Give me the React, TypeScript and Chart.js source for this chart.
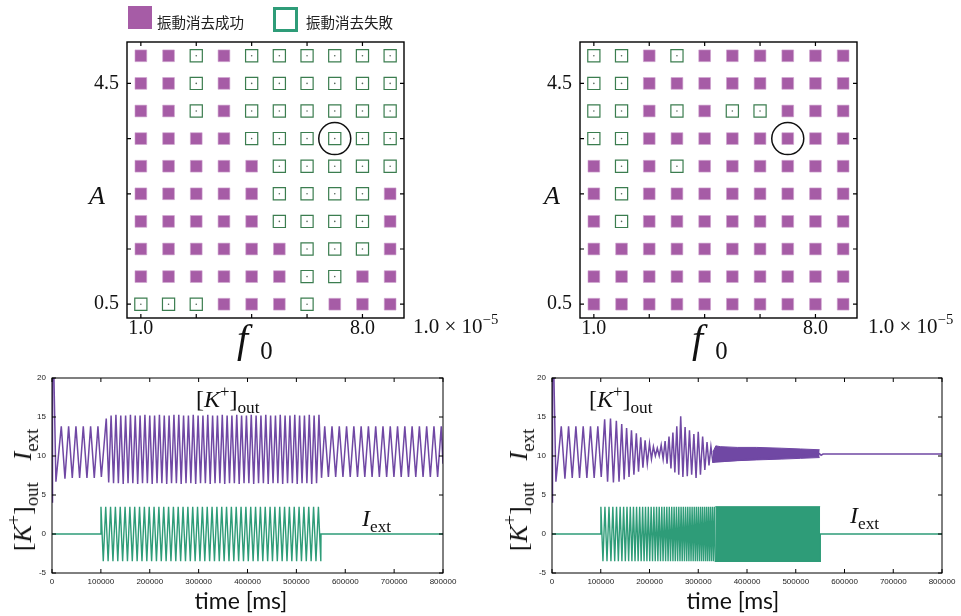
import React, { useEffect, useRef } from "react";
import { Chart, registerables } from "chart.js";
Chart.register(...registerables);

const W = 961;
const H = 616;

// ---------------- parameter-scan grids (rows: A from 5.0 down to 0.5) ----------------
const ampValues = [5.0, 4.5, 4.0, 3.5, 3.0, 2.5, 2.0, 1.5, 1.0, 0.5];
const leftOutcomes = [
  "SSFSFFFFFF",
  "SSFSFFFFFF",
  "SSFSFFFFFF",
  "SSSSFFFFFF",
  "SSSSSFFFFF",
  "SSSSSFFFFS",
  "SSSSSFFFFS",
  "SSSSSSFFFS",
  "SSSSSSFFSS",
  "FFFSSSFSSS",
];
const rightOutcomes = [
  "FFSFSSSSSS",
  "FFSSSSSSSS",
  "FFSFSFFSSS",
  "FFSSSSSSSS",
  "SFSFSSSSSS",
  "SFSSSSSSSS",
  "SFSSSSSSSS",
  "SSSSSSSSSS",
  "SSSSSSSSSS",
  "SSSSSSSSSS",
];
const circledCell = [7, 3.5];
const f0TickCols = [0, 2, 4, 6, 8];
const f0TickText = ["1.0", "", "", "", "8.0"];
const ampTicks = [0.5, 1.5, 2.5, 3.5, 4.5];
const ampTickText = ["0.5", "", "", "", "4.5"];

// ---------------- time series (times in units of 1000 ms) ----------------
const timeTicks = [0, 100000, 200000, 300000, 400000, 500000, 600000, 700000, 800000];
const levelTicks = [-5, 0, 5, 10, 15, 20];
const stimAmp = 3.5;

// [K+]out before stimulation (same in both runs)
const kPreT = [0, 1, 2.5, 8, 19, 26.5, 34, 41.5, 49, 56.5, 64, 71.5, 79, 86.5, 94, 101];
const kPreV = [4.1, 21, 25, 6.7, 13.8, 7.1, 13.8, 7.2, 13.8, 7.2, 13.8, 7.2, 13.8, 7.2, 13.8, 7.3];

// left run: [K+]out during stimulation
const lStimPeakT = [111.0, 120.9, 130.8, 140.7, 150.6, 160.5, 170.3, 180.2, 190.1, 200.0, 209.9, 219.8, 229.7, 239.6, 249.5, 259.4, 269.2, 279.1, 289.0, 298.9, 308.8, 318.7, 328.6, 338.5, 348.4, 358.3, 368.1, 378.0, 387.9, 397.8, 407.7, 417.6, 427.5, 437.4, 447.3, 457.2, 467.0, 476.9, 486.8, 496.7, 506.6, 516.5, 526.4, 536.3, 546.2];
const lStimPeakV = [14.8, 15.2, 15.3, 15.2, 15.2, 15.3, 15.2, 15.2, 15.3, 15.2, 15.2, 15.3, 15.2, 15.2, 15.3, 15.3, 15.2, 15.2, 15.3, 15.2, 15.2, 15.3, 15.2, 15.2, 15.3, 15.2, 15.2, 15.3, 15.2, 15.2, 15.3, 15.2, 15.2, 15.3, 15.2, 15.2, 15.3, 15.2, 15.2, 15.3, 15.2, 15.2, 15.3, 15.2, 15.3];
const lStimTroughT = [116.0, 125.9, 135.8, 145.7, 155.6, 165.4, 175.3, 185.2, 195.1, 205.0, 214.9, 224.8, 234.7, 244.6, 254.5, 264.3, 274.2, 284.1, 294.0, 303.9, 313.8, 323.7, 333.6, 343.5, 353.4, 363.2, 373.1, 383.0, 392.9, 402.8, 412.7, 422.6, 432.5, 442.4, 452.3, 462.1, 472.0, 481.9, 491.8, 501.7, 511.6, 521.5, 531.4, 541.3, 551.5];
const lStimTroughV = [6.6, 6.5, 6.5, 6.4, 6.5, 6.5, 6.4, 6.5, 6.5, 6.4, 6.5, 6.5, 6.4, 6.5, 6.5, 6.4, 6.5, 6.5, 6.4, 6.5, 6.5, 6.4, 6.5, 6.5, 6.4, 6.5, 6.5, 6.4, 6.5, 6.5, 6.4, 6.5, 6.5, 6.4, 6.5, 6.5, 6.4, 6.5, 6.5, 6.4, 6.5, 6.5, 6.4, 6.5, 7.2];
// left run: [K+]out after stimulation
const lPostPeakT = [558.0, 572.9, 587.8, 602.7, 617.6, 632.5, 647.4, 662.3, 677.2, 692.1, 707.0, 721.9, 736.8, 751.7, 766.6, 781.5, 796.4];
const lPostPeakV = [13.8, 13.8, 13.8, 13.8, 13.8, 13.8, 13.8, 13.8, 13.8, 13.8, 13.8, 13.8, 13.8, 13.8, 13.8, 13.8, 13.8];
const lPostTroughT = [565.5, 580.4, 595.3, 610.2, 625.1, 640.0, 654.9, 669.8, 684.7, 699.6, 714.5, 729.4, 744.3, 759.2, 774.1, 789.0, 800.0];
const lPostTroughV = [7.3, 7.3, 7.3, 7.3, 7.3, 7.3, 7.3, 7.3, 7.3, 7.3, 7.3, 7.3, 7.3, 7.3, 7.3, 7.3, 9.0];
// left run: I_ext (periodic)
const lIextPeakT = [100.2, 109.9, 119.8, 129.7, 139.6, 149.5, 159.3, 169.2, 179.1, 189.0, 198.9, 208.8, 218.7, 228.6, 238.5, 248.4, 258.2, 268.1, 278.0, 287.9, 297.8, 307.7, 317.6, 327.5, 337.4, 347.3, 357.1, 367.0, 376.9, 386.8, 396.7, 406.6, 416.5, 426.4, 436.3, 446.2, 456.0, 465.9, 475.8, 485.7, 495.6, 505.5, 515.4, 525.3, 535.2, 545.1];
const lIextTroughT = [104.9, 114.8, 124.7, 134.6, 144.5, 154.4, 164.3, 174.2, 184.1, 194.0, 203.8, 213.7, 223.6, 233.5, 243.4, 253.3, 263.2, 273.1, 283.0, 292.9, 302.7, 312.6, 322.5, 332.4, 342.3, 352.2, 362.1, 372.0, 381.9, 391.8, 401.6, 411.5, 421.4, 431.3, 441.2, 451.1, 461.0, 470.9, 480.8, 490.7, 500.5, 510.4, 520.3, 530.2, 540.1, 550.0];

// right run: [K+]out during stimulation
const rStimPeakT = [108, 120, 132, 143, 153, 163, 173, 182, 191, 200, 208, 216, 224, 232, 240, 248, 256, 264, 273, 282, 291, 300, 309, 318, 326];
const rStimPeakV = [14.7, 14.8, 14.5, 14.1, 13.6, 13.3, 12.9, 12.4, 12.0, 11.6, 11.2, 11.0, 11.4, 11.9, 12.5, 13.0, 13.8, 15.1, 13.7, 13.3, 12.8, 13.1, 12.5, 11.8, 11.2];
const rStimTroughT = [114, 126, 137.5, 148, 158, 168, 177.5, 186.5, 195.5, 204, 212, 220, 228, 236, 244, 252, 260, 268.5, 277.5, 286.5, 295.5, 304.5, 313.5, 322, 330];
const rStimTroughV = [6.7, 6.6, 6.7, 7.0, 7.3, 7.6, 8.0, 8.5, 9.0, 9.6, 10.0, 10.0, 9.6, 9.0, 8.4, 7.9, 7.6, 7.3, 7.4, 7.6, 7.2, 7.6, 8.2, 8.8, 9.2];
// right run: dense [K+]out oscillation envelope, then steady level
const rBandT = [330, 336, 345, 380, 420, 470, 510, 549];
const rBandHi = [10.5, 11.3, 11.2, 11.1, 11.1, 11.0, 10.9, 10.8];
const rBandLo = [9.2, 9.3, 9.3, 9.4, 9.5, 9.6, 9.7, 9.8];
const rPostT = [549, 552, 556, 800];
const rPostV = [10.3, 10.1, 10.25, 10.25];
// right run: I_ext (chirp)
const rIextPeakT = [100.3, 108.6, 116.9, 124.8, 132.4, 139.8, 146.9, 153.8, 160.6, 167.1, 173.5, 179.8, 185.9, 191.8, 197.6, 203.4, 209.0, 214.5, 219.9, 225.2, 230.4, 235.5, 240.6, 245.6, 250.5, 255.3, 260.1, 264.8, 269.4, 274.0, 278.5, 283.0, 287.4, 291.8, 296.1, 300.3, 304.6, 308.7, 312.9, 317.0, 321.0, 325.0, 329.0, 333.0];
const rIextTroughT = [104.5, 112.8, 120.9, 128.6, 136.1, 143.4, 150.4, 157.2, 163.9, 170.3, 176.7, 182.9, 188.9, 194.7, 200.5, 206.2, 211.8, 217.2, 222.6, 227.8, 233.0, 238.1, 243.1, 248.1, 252.9, 257.7, 262.5, 267.1, 271.7, 276.3, 280.8, 285.2, 289.6, 294.0, 298.2, 302.5, 306.7, 310.8, 315.0, 319.0, 323.0, 327.0, 331.0, 335.0];
const rIextBandT = [335, 550];

// ---------------- colours ----------------
const PURPLE_SQ = "#a65ca6";
const GREEN_SQ = "#3b7d4f";
const K_COLOR = "#7048a4";
const I_COLOR = "#2e9c78";

type P = { x: number; y: number };
const pts = (t: number[], v: number[]): P[] =>
  t.slice(0, Math.min(t.length, v.length)).map((tt, i) => ({ x: tt * 1000, y: v[i] }));
const merge = (...parts: P[][]): P[] => parts.flat().sort((a, b) => a.x - b.x);
const level = (t: number[], v: number): P[] => t.map((tt) => ({ x: tt * 1000, y: v }));

const frameTicks = {
  id: "frameTicks",
  afterDraw(chart: any, _a: any, opts: any) {
    const { ctx, chartArea: a } = chart;
    const xs = chart.scales.x;
    const ys = chart.scales.y;
    const L = opts.tickLen;
    ctx.save();
    ctx.strokeStyle = "#000";
    ctx.lineWidth = opts.tickWidth;
    ctx.beginPath();
    xs.ticks.forEach((t: any) => {
      const p = xs.getPixelForValue(t.value);
      ctx.moveTo(p, a.top);
      ctx.lineTo(p, a.top + L);
      ctx.moveTo(p, a.bottom);
      ctx.lineTo(p, a.bottom - L);
    });
    ys.ticks.forEach((t: any) => {
      const p = ys.getPixelForValue(t.value);
      ctx.moveTo(a.left, p);
      ctx.lineTo(a.left + L, p);
      ctx.moveTo(a.right, p);
      ctx.lineTo(a.right - L, p);
    });
    ctx.stroke();
    ctx.lineWidth = opts.lineWidth;
    ctx.strokeRect(a.left, a.top, a.right - a.left, a.bottom - a.top);
    ctx.restore();
  },
};

function gridConfig(outcomes: string[], left: number, right: number) {
  const success: P[] = [];
  const failure: P[] = [];
  outcomes.forEach((row, r) =>
    row.split("").forEach((c, col) => (c === "S" ? success : failure).push({ x: col, y: ampValues[r] }))
  );
  const top = 42;
  const bottom = 318;
  const yW = 40;
  const xH = 30;
  return {
    type: "scatter",
    data: {
      datasets: [
        { data: [{ x: circledCell[0], y: circledCell[1] }], pointStyle: "circle", pointRadius: 16, pointBackgroundColor: "rgba(0,0,0,0)", pointBorderColor: "#111", pointBorderWidth: 1.5 },
        { data: failure, pointStyle: "circle", pointRadius: 0.8, pointBackgroundColor: "#55655a", pointBorderWidth: 0 },
        { data: failure, pointStyle: "rect", pointRadius: 8.6, pointBackgroundColor: "rgba(255,255,255,0)", pointBorderColor: GREEN_SQ, pointBorderWidth: 1.2 },
        { data: success, pointStyle: "rect", pointRadius: 8.3, pointBackgroundColor: PURPLE_SQ, pointBorderColor: "#cfa3cf", pointBorderWidth: 0.6 },
      ],
    },
    options: {
      animation: false,
      responsive: false,
      events: [],
      layout: { autoPadding: false, padding: { left: left - yW, right: W - right, top, bottom: H - bottom - xH } },
      plugins: { legend: { display: false }, tooltip: { enabled: false }, frameTicks: { tickLen: 4, tickWidth: 1.2, lineWidth: 1.4 } },
      scales: {
        x: {
          type: "linear", min: -0.5, max: 9.5,
          afterFit: (s: any) => { s.height = xH; },
          afterBuildTicks: (s: any) => { s.ticks = f0TickCols.map((v) => ({ value: v })); },
          ticks: { autoSkip: false, maxRotation: 0, padding: -1, color: "#111", font: { family: "Liberation Serif", size: 20 }, callback: (_v: any, i: number) => f0TickText[i] },
          grid: { display: false, drawTicks: false },
          border: { display: false },
        },
        y: {
          type: "linear", min: 0.25, max: 5.25,
          afterFit: (s: any) => { s.width = yW; },
          afterBuildTicks: (s: any) => { s.ticks = ampTicks.map((v) => ({ value: v })); },
          ticks: { autoSkip: false, padding: 8, color: "#111", font: { family: "Liberation Serif", size: 20 }, callback: (_v: any, i: number) => ampTickText[i] },
          grid: { display: false, drawTicks: false },
          border: { display: false },
        },
      },
    },
    plugins: [frameTicks],
  };
}

function timeConfig(datasets: any[], left: number, right: number) {
  const top = 378;
  const bottom = 573;
  const yW = 30;
  const xH = 20;
  return {
    type: "line",
    data: { datasets },
    options: {
      animation: false,
      responsive: false,
      events: [],
      layout: { autoPadding: false, padding: { left: left - yW, right: W - right, top, bottom: H - bottom - xH } },
      plugins: { legend: { display: false }, tooltip: { enabled: false }, frameTicks: { tickLen: 4, tickWidth: 1, lineWidth: 1 } },
      elements: { point: { radius: 0 }, line: { tension: 0 } },
      scales: {
        x: {
          type: "linear", min: 0, max: 800000,
          afterFit: (s: any) => { s.height = xH; },
          afterBuildTicks: (s: any) => { s.ticks = timeTicks.map((v) => ({ value: v })); },
          ticks: { autoSkip: false, maxRotation: 0, padding: 4, color: "#222", font: { family: "Liberation Sans", size: 8 }, callback: (v: any) => String(v) },
          grid: { display: false, drawTicks: false },
          border: { display: false },
        },
        y: {
          type: "linear", min: -5, max: 20,
          afterFit: (s: any) => { s.width = yW; },
          afterBuildTicks: (s: any) => { s.ticks = levelTicks.map((v) => ({ value: v })); },
          ticks: { autoSkip: false, padding: 6, color: "#222", font: { family: "Liberation Sans", size: 8 }, callback: (v: any) => String(v) },
          grid: { display: false, drawTicks: false },
          border: { display: false },
        },
      },
    },
    plugins: [frameTicks],
  };
}

function leftTimeDatasets() {
  const k = [
    ...pts(kPreT, kPreV),
    ...merge(pts(lStimPeakT, lStimPeakV), pts(lStimTroughT, lStimTroughV)),
    ...merge(pts(lPostPeakT, lPostPeakV), pts(lPostTroughT, lPostTroughV)),
  ];
  const iext = [
    ...level([0, 100], 0),
    ...merge(level(lIextPeakT, stimAmp), level(lIextTroughT, -stimAmp)),
    ...level([550.4, 800], 0),
  ];
  return [
    { data: k, borderColor: K_COLOR, borderWidth: 1.5, pointRadius: 0 },
    { data: iext, borderColor: I_COLOR, borderWidth: 1.4, pointRadius: 0 },
  ];
}

function rightTimeDatasets() {
  const k = [
    ...pts(kPreT, kPreV),
    ...merge(pts(rStimPeakT, rStimPeakV), pts(rStimTroughT, rStimTroughV)),
    ...pts(rPostT, rPostV),
  ];
  const iext = [
    ...level([0, 100], 0),
    ...merge(level(rIextPeakT, stimAmp), level(rIextTroughT, -stimAmp)),
    ...level([550], -stimAmp),
    ...level([550.3, 800], 0),
  ];
  return [
    { data: k, borderColor: K_COLOR, borderWidth: 1.5, pointRadius: 0 },
    { data: pts(rBandT, rBandHi), borderColor: K_COLOR, borderWidth: 1, pointRadius: 0, fill: "+1", backgroundColor: K_COLOR },
    { data: pts(rBandT, rBandLo), borderColor: K_COLOR, borderWidth: 1, pointRadius: 0 },
    { data: iext, borderColor: I_COLOR, borderWidth: 1.4, pointRadius: 0 },
    { data: level(rIextBandT, stimAmp), borderColor: I_COLOR, borderWidth: 1, pointRadius: 0, fill: "+1", backgroundColor: I_COLOR },
    { data: level(rIextBandT, -stimAmp), borderColor: I_COLOR, borderWidth: 1, pointRadius: 0 },
  ];
}

function ChartCanvas({ make }: { make: () => any }) {
  const ref = useRef<HTMLCanvasElement>(null);
  useEffect(() => {
    const chart = new Chart(ref.current as HTMLCanvasElement, make());
    return () => chart.destroy();
  }, []);
  return (
    <canvas
      ref={ref}
      width={W}
      height={H}
      style={{ position: "absolute", left: 0, top: 0, width: W, height: H }}
    />
  );
}

const serif = '"Liberation Serif", "DejaVu Serif", serif';
const Sup = ({ children }: { children: React.ReactNode }) => (
  <span style={{ fontSize: "0.7em", position: "relative", top: "-0.6em" }}>{children}</span>
);
const Sub = ({ children }: { children: React.ReactNode }) => (
  <span style={{ fontSize: "0.72em", position: "relative", top: "0.35em" }}>{children}</span>
);
const abs = (left: number, top: number, extra: React.CSSProperties = {}): React.CSSProperties => ({
  position: "absolute", left, top, whiteSpace: "nowrap", lineHeight: 1, color: "#111", ...extra,
});

const KOut = () => (
  <span>
    [<i>K</i><Sup>+</Sup>]<Sub>out</Sub>
  </span>
);
const IExt = () => (
  <span>
    <i>I</i><Sub>ext</Sub>
  </span>
);

function GridLabels({ dx }: { dx: number }) {
  return (
    <>
      <div style={abs(89 + dx, 181, { font: `italic 26px ${serif}` })}>A</div>
      <div style={abs(237 + dx, 315, { font: `italic 40px ${serif}` })}>
        f<span style={{ fontStyle: "normal", fontSize: "0.62em", position: "relative", top: "0.3em", marginLeft: 12 }}>0</span>
      </div>
      <div style={abs(413 + dx, 314, { font: `21px ${serif}` })}>
        1.0 × 10<Sup>−5</Sup>
      </div>
    </>
  );
}

function TimeLabels({ yLabelX, timeX, kx, ix, iy }: { yLabelX: number; timeX: number; kx: number; ix: number; iy: number }) {
  return (
    <>
      <div style={abs(kx, 386, { font: `24px ${serif}` })}>
        <KOut />
      </div>
      <div style={abs(ix, iy, { font: `24px ${serif}` })}>
        <IExt />
      </div>
      <div
        style={abs(yLabelX, 490, {
          font: `26px ${serif}`,
          transform: "translate(-50%, -50%) rotate(-90deg)",
        })}
      >
        <KOut />
        <span style={{ display: "inline-block", width: 22 }} />
        <IExt />
      </div>
      <div style={abs(timeX, 600, { font: `23px Lato, "Open Sans", sans-serif`, transform: "translate(-50%, -50%)" })}>
        time [ms]
      </div>
    </>
  );
}

export default function App() {
  return (
    <div style={{ position: "absolute", left: 0, top: 0, width: W, height: H, overflow: "hidden", background: "#fff" }}>
      <ChartCanvas make={() => gridConfig(leftOutcomes, 127, 404)} />
      <ChartCanvas make={() => gridConfig(rightOutcomes, 580, 857)} />
      <ChartCanvas make={() => timeConfig(leftTimeDatasets(), 52, 443)} />
      <ChartCanvas make={() => timeConfig(rightTimeDatasets(), 552, 942)} />

      {/* legend */}
      <div style={{ position: "absolute", left: 128, top: 6, width: 24, height: 23, background: PURPLE_SQ }} />
      <div style={abs(157, 11, { font: '14.5px "Noto Sans CJK JP", sans-serif', color: "#222" })}>振動消去成功</div>
      <div style={{ position: "absolute", left: 273, top: 7, width: 25, height: 25, boxSizing: "border-box", border: `3px solid ${I_COLOR}`, background: "#fff" }} />
      <div style={abs(306, 11, { font: '14.5px "Noto Sans CJK JP", sans-serif', color: "#222" })}>振動消去失敗</div>

      <GridLabels dx={0} />
      <GridLabels dx={455} />
      <TimeLabels yLabelX={23} timeX={241} kx={196} ix={362} iy={505} />
      <TimeLabels yLabelX={519} timeX={733} kx={589} ix={850} iy={502} />
    </div>
  );
}
